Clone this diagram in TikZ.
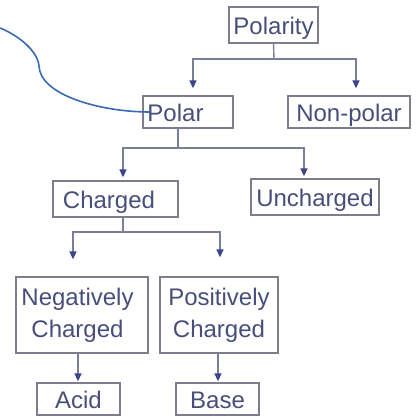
\documentclass[tikz,border=0pt]{standalone}
\usepackage{fontspec}
\setmainfont{Liberation Sans}
\usetikzlibrary{arrows.meta}
\definecolor{boxcol}{RGB}{125,125,142}
\definecolor{textcol}{RGB}{72,78,122}
\definecolor{linecol}{RGB}{122,126,152}
\definecolor{arrowcol}{RGB}{62,68,140}
\definecolor{curvecol}{RGB}{55,105,180}
\tikzset{
  box/.style={draw=boxcol, line width=1.3pt, inner sep=0pt, text=textcol,
    font=\fontsize{24}{32}\selectfont, text height=19.5pt, text depth=0pt},
  box2/.style={draw=boxcol, line width=1.3pt, inner sep=0pt, text=textcol,
    font=\fontsize{24}{32}\selectfont, align=center},
  conn/.style={draw=linecol, line width=1.4pt},
  arr/.style={draw=linecol, line width=1.4pt,
    -{Triangle[width=7pt,length=8pt,color=arrowcol]}},
  curve/.style={draw=curvecol, line width=1.6pt}
}
\begin{document}
\begin{tikzpicture}[x=1pt,y=-1pt]
\useasboundingbox (0,0) rectangle (415,417);
% boxes
\node[box, minimum width=89pt, minimum height=36pt] (polarity) at (273.5,25) {Polarity};
\node[box, minimum width=90pt, minimum height=32pt] (polar) at (188,112) {Polar\hspace*{25pt}};
\node[box, minimum width=122pt, minimum height=32pt] (nonpolar) at (349,112) {Non-polar};
\node[box, minimum width=125pt, minimum height=36pt] (charged) at (115.5,199) {Charged\hspace*{13pt}};
\node[box, minimum width=128pt, minimum height=36pt] (uncharged) at (315,197) {Uncharged};
\node[box2, minimum width=132pt, minimum height=76pt] (neg) at (82,315) {Negatively\hspace*{9pt}\\Charged\hspace*{9pt}};
\node[box2, minimum width=118pt, minimum height=76pt] (pos) at (219,315) {Positively\\Charged};
\node[box, minimum width=83pt, minimum height=32pt] (acid) at (78.5,399) {Acid};
\node[box, minimum width=83pt, minimum height=32pt] (base) at (217.5,399) {Base};
% junctions
\coordinate (j1) at (274,59);
\coordinate (j2) at (178,148);
\coordinate (j3) at (123,232);
% connectors
\draw[conn] (polarity.south) -- (j1);
\draw[arr, shorten >=7pt] (j1) -| ([xshift=5pt]polar.north);
\draw[arr, shorten >=7pt] (j1) -| ([xshift=7pt]nonpolar.north);
\draw[conn] ([xshift=-10pt]polar.south) -- (j2);
\draw[arr, shorten >=3pt] (j2) -| ([xshift=7.5pt]charged.north);
\draw[arr, shorten >=2pt] (j2) -| ([xshift=-11pt]uncharged.north);
\draw[conn] ([xshift=7.5pt]charged.south) -- (j3);
\draw[arr, shorten >=17pt] (j3) -| ([xshift=-9pt]neg.north);
\draw[arr, shorten >=19pt] (j3) -| ([xshift=1pt]pos.north);
\draw[arr, shorten >=1pt] ([xshift=-4pt]neg.south) -- ([xshift=-0.5pt]acid.north);
\draw[arr, shorten >=1pt] ([xshift=-1pt]pos.south) -- ([xshift=0.5pt]base.north);
% annotation curve
\coordinate (c0) at (0,28);
\coordinate (c1) at (39,66);
\coordinate (c2) at (150,112);
\draw[curve] (c0) .. controls (20,36) and (38,52) .. (c1)
  .. controls (40,95) and (100,112) .. (c2);
\end{tikzpicture}
\end{document}
